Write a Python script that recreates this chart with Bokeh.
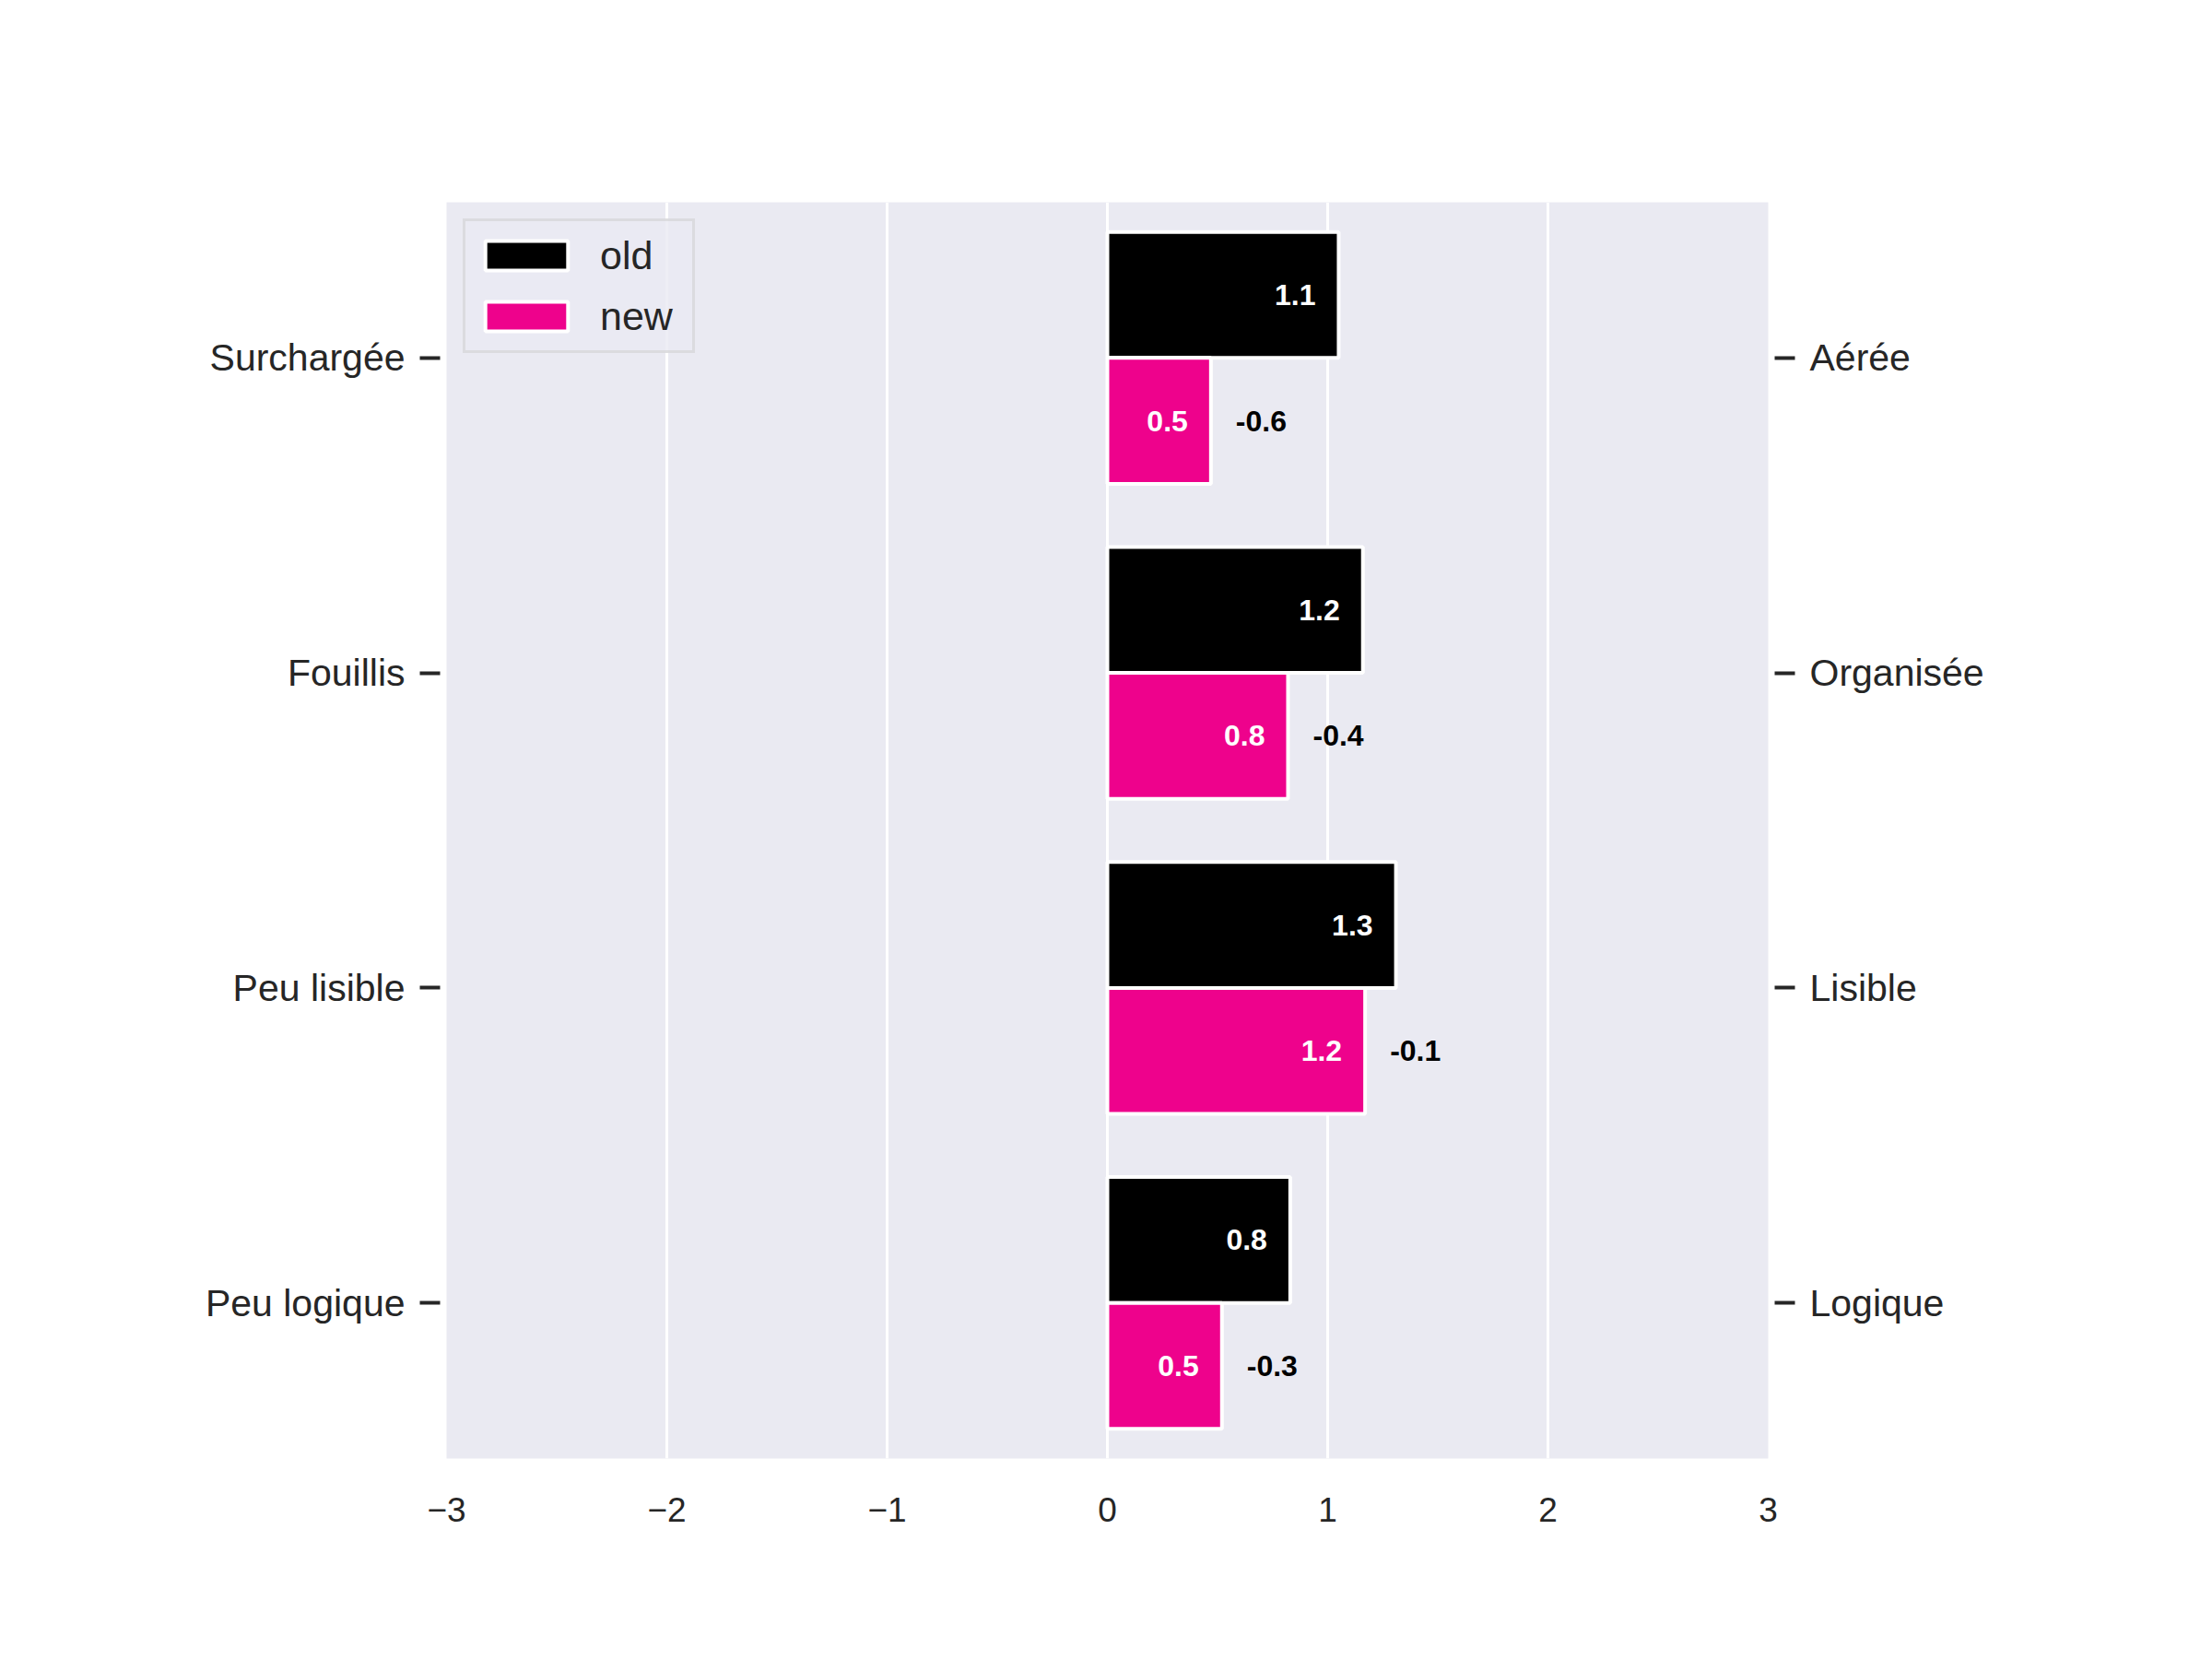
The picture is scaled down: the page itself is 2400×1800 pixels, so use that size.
from bokeh.plotting import figure
from bokeh.models import Range1d, LinearAxis, FixedTicker, ColumnDataSource, LabelSet
from bokeh.transform import dodge
from bokeh.core.properties import value
from bokeh.embed import file_html
from bokeh.resources import INLINE

# ---- data ----
left_labels = ["Surchargée", "Fouillis", "Peu lisible", "Peu logique"]
right_labels = ["Aérée", "Organisée", "Lisible", "Logique"]
old_scores = [1.05, 1.16, 1.31, 0.83]
new_scores = [0.47, 0.82, 1.17, 0.52]
old_text = ["1.1", "1.2", "1.3", "0.8"]
new_text = ["0.5", "0.8", "1.2", "0.5"]
diff_text = ["-0.6", "-0.4", "-0.1", "-0.3"]
x_ticks = [-3, -2, -1, 0, 1, 2, 3]
series_names = ["old", "new"]
series_colors = ["#000000", "#EE028C"]

FONT = "Liberation Sans"
TXT = "#262626"

n = len(left_labels)
pos = [n - 1 - i for i in range(n)]
src = ColumnDataSource(dict(pos=pos, old=old_scores, new=new_scores,
                            old_t=old_text, new_t=new_text, diff_t=diff_text))

p = figure(frame_width=1434, frame_height=1363,
           min_border_left=484, min_border_right=474,
           min_border_top=219, min_border_bottom=210,
           x_range=Range1d(-3, 3), y_range=Range1d(-0.494, 3.494),
           output_backend="svg", toolbar_location=None, tools="")

p.background_fill_color = "#EAEAF2"
p.border_fill_color = "white"
p.outline_line_color = None

p.hbar(y=dodge("pos", 0.2, range=p.y_range), left=0, right="old", height=0.4,
       source=src, fill_color=series_colors[0], line_color="white", line_width=4,
       legend_label=series_names[0])
p.hbar(y=dodge("pos", -0.2, range=p.y_range), left=0, right="new", height=0.4,
       source=src, fill_color=series_colors[1], line_color="white", line_width=4,
       legend_label=series_names[1])

lab_kw = dict(source=src, text_font=value(FONT), text_font_size="32px",
              text_font_style="bold", text_baseline="middle")
p.add_layout(LabelSet(x="old", y=dodge("pos", 0.2, range=p.y_range), text="old_t",
                      text_align="right", x_offset=-25, text_color="white", **lab_kw))
p.add_layout(LabelSet(x="new", y=dodge("pos", -0.2, range=p.y_range), text="new_t",
                      text_align="right", x_offset=-25, text_color="white", **lab_kw))
p.add_layout(LabelSet(x="new", y=dodge("pos", -0.2, range=p.y_range), text="diff_t",
                      text_align="left", x_offset=27, text_color="black", **lab_kw))

# grid
p.xgrid.grid_line_color = "white"
p.xgrid.grid_line_width = 3
p.xgrid.ticker = FixedTicker(ticks=x_ticks)
p.ygrid.grid_line_color = None

# x axis
xa = p.xaxis[0]
xa.ticker = FixedTicker(ticks=x_ticks)
xa.major_label_overrides = {t: (str(t).replace("-", "\u2212")) for t in x_ticks}
xa.axis_line_color = None
xa.major_tick_line_color = None
xa.minor_tick_line_color = None
xa.major_tick_out = 0
xa.major_tick_in = 0
xa.major_label_standoff = 42
xa.major_label_text_font = FONT
xa.major_label_text_font_size = "37px"
xa.major_label_text_color = TXT

def style_y(ax, labels):
    ax.ticker = FixedTicker(ticks=pos)
    ax.major_label_overrides = {pp: lab for pp, lab in zip(pos, labels)}
    ax.axis_line_color = None
    ax.minor_tick_line_color = None
    ax.major_tick_line_color = TXT
    ax.major_tick_line_width = 4
    ax.major_tick_in = -7
    ax.major_tick_out = 29
    ax.major_label_standoff = 16
    ax.major_label_text_font = FONT
    ax.major_label_text_font_size = "41px"
    ax.major_label_text_color = TXT

style_y(p.yaxis[0], left_labels)
ra = LinearAxis()
p.add_layout(ra, "right")
style_y(ra, right_labels)

lg = p.legend[0]
lg.location = "top_left"
lg.margin = 18
lg.padding = 10
lg.spacing = 12
lg.glyph_width = 112
lg.glyph_height = 40
lg.label_standoff = 24
lg.label_text_font = FONT
lg.label_text_font_size = "43px"
lg.label_text_color = TXT
lg.label_height = 54
lg.label_width = 90
lg.background_fill_color = "#EAEAF2"
lg.background_fill_alpha = 0.8
lg.border_line_color = "#CCCCCC"
lg.border_line_width = 3

open("out.html", "w").write(file_html(p, INLINE))
